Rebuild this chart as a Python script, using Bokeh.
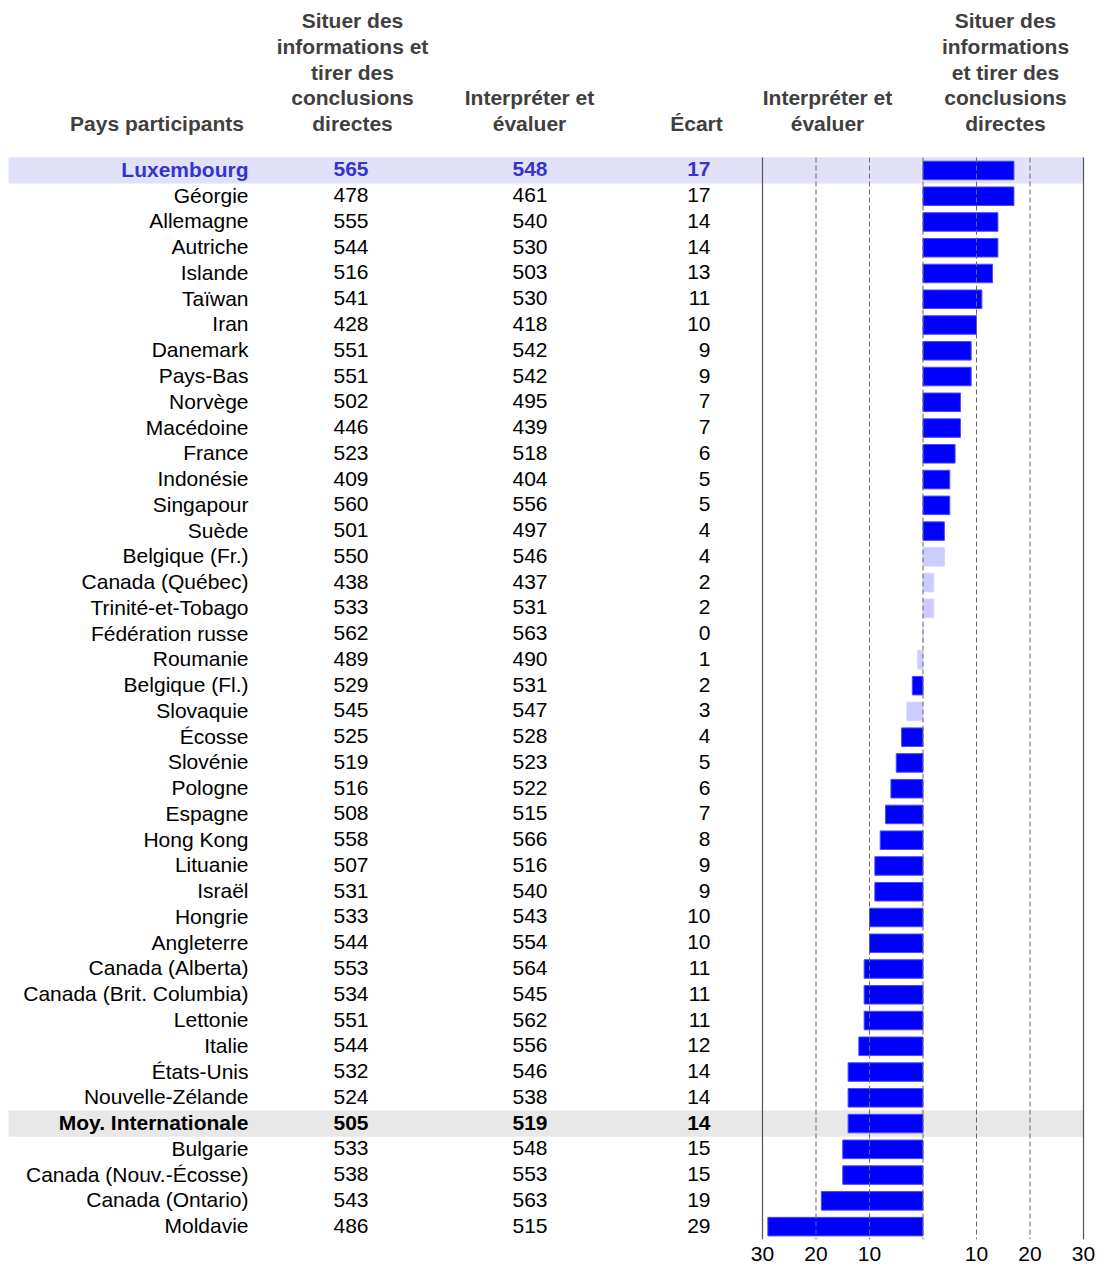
from bokeh.plotting import figure
from bokeh.models import ColumnDataSource, Range1d, LinearAxis, FixedTicker
from bokeh.core.properties import value
from bokeh.embed import file_html
from bokeh.resources import INLINE

# ---------------- data ----------------
countries = ["Luxembourg", "Géorgie", "Allemagne", "Autriche", "Islande", "Taïwan", "Iran",
             "Danemark", "Pays-Bas", "Norvège", "Macédoine", "France", "Indonésie", "Singapour",
             "Suède", "Belgique (Fr.)", "Canada (Québec)", "Trinité-et-Tobago", "Fédération russe",
             "Roumanie", "Belgique (Fl.)", "Slovaquie", "Écosse", "Slovénie", "Pologne", "Espagne",
             "Hong Kong", "Lituanie", "Israël", "Hongrie", "Angleterre", "Canada (Alberta)",
             "Canada (Brit. Columbia)", "Lettonie", "Italie", "États-Unis", "Nouvelle-Zélande",
             "Moy. Internationale", "Bulgarie", "Canada (Nouv.-Écosse)", "Canada (Ontario)", "Moldavie"]
situer = [565, 478, 555, 544, 516, 541, 428, 551, 551, 502, 446, 523, 409, 560, 501, 550, 438,
          533, 562, 489, 529, 545, 525, 519, 516, 508, 558, 507, 531, 533, 544, 553, 534, 551,
          544, 532, 524, 505, 533, 538, 543, 486]
interpreter = [548, 461, 540, 530, 503, 530, 418, 542, 542, 495, 439, 518, 404, 556, 497, 546,
               437, 531, 563, 490, 531, 547, 528, 523, 522, 515, 566, 516, 540, 543, 554, 564,
               545, 562, 556, 546, 538, 519, 548, 553, 563, 515]
# signed gap: positive = "Situer des informations..." higher, negative = "Interpréter et évaluer" higher
ecart = [17, 17, 14, 14, 13, 11, 10, 9, 9, 7, 7, 6, 5, 5, 4, 4, 2, 2, 0,
         -1, -2, -3, -4, -5, -6, -7, -8, -9, -9, -10, -10, -11, -11, -11, -12, -14, -14,
         -14, -15, -15, -19, -29]
significant = [True] * 15 + [False] * 5 + [True] + [False] + [True] * 20
highlight_lux = "Luxembourg"
highlight_avg = "Moy. Internationale"

header_col1 = ["Pays participants"]
header_col2 = ["Situer des", "informations et", "tirer des", "conclusions", "directes"]
header_col3 = ["Interpréter et", "évaluer"]
header_col4 = ["Écart"]
header_bar_left = ["Interpréter et", "évaluer"]
header_bar_right = ["Situer des", "informations", "et tirer des", "conclusions", "directes"]

tick_values = [-30, -20, -10, 10, 20, 30]
grid_values = [-20, -10, 0, 10, 20]
frame_values = [-30, 30]

# ---------------- layout constants ----------------
FONT = "Liberation Sans"
FS = "21px"
W = 1100
H_FRAME = 1239
B_BOTTOM = 26
ROW_PX = 25.76
n = len(countries)
y_bottom = n - 0.5
y_top = y_bottom - H_FRAME / ROW_PX

BAR_L, BAR_R = 762, 1083          # canvas x of -30 and +30
ppu = (BAR_R - BAR_L) / 60.0
bx0 = -30 - BAR_L / ppu
bx1 = 30 + (W - BAR_R) / ppu
BAND_L = 8

X_NAME, X_S1, X_S2, X_EC = 248, 350.5, 529.5, 710
X_H1, X_H2, X_H3, X_H4 = 156.5, 352, 529, 696
X_HB1, X_HB2 = 827, 1005
HEAD_BASE = -1.82
ROW_SHIFT = -0.04

p = figure(width=W, height=H_FRAME + B_BOTTOM,
           x_range=Range1d(0, W), y_range=Range1d(y_bottom, y_top),
           output_backend="svg", toolbar_location=None,
           x_axis_location=None, y_axis_location=None,
           min_border_left=0, min_border_right=0, min_border_top=0,
           min_border_bottom=B_BOTTOM)
p.extra_x_ranges = {"bars": Range1d(bx0, bx1)}
p.outline_line_color = None
p.grid.grid_line_color = None
p.background_fill_color = "white"
p.border_fill_color = "white"

rows = list(range(n))

# highlight bands
band_rows = [i for i, c in enumerate(countries) if c in (highlight_lux, highlight_avg)]
band_cols = ["#e1e1fa" if countries[i] == highlight_lux else "#e8e8e8" for i in band_rows]
p.hbar(y=band_rows, left=bx0 + BAND_L / ppu, right=30, height=1.02, fill_color=band_cols,
       line_color=None, x_range_name="bars")

# bars
bar_src = ColumnDataSource(dict(
    y=rows, v=ecart,
    fill=["#0000ff" if s else "#ccccff" for s in significant],
    line=["#4a4aff" if s else "#d4d4ff" for s in significant],
))
p.hbar(y="y", left=0, right="v", height=0.72, fill_color="fill", line_color="line",
       line_width=1, source=bar_src, x_range_name="bars")

# reference lines
p.segment(x0=grid_values, x1=grid_values, y0=-0.5, y1=y_bottom, line_color="#666666",
          line_width=1, line_dash="5 3", x_range_name="bars")
p.segment(x0=frame_values, x1=frame_values, y0=-0.5, y1=y_bottom, line_color="#555555",
          line_width=1.2, x_range_name="bars")

# table text
colors = ["#3535cc" if c == highlight_lux else "black" for c in countries]
styles = ["bold" if c in (highlight_lux, highlight_avg) else "normal" for c in countries]
tsrc = ColumnDataSource(dict(
    y=[r + ROW_SHIFT for r in rows], name=countries,
    s1=[str(v) for v in situer], s2=[str(v) for v in interpreter],
    ec=[str(abs(v)) for v in ecart], color=colors, style=styles,
))
common = dict(source=tsrc, y="y", text_font=value(FONT), text_font_size=FS,
              text_color="color", text_font_style="style", text_baseline="middle")
p.text(x=X_NAME, text="name", text_align="right", **common)
p.text(x=X_S1, text="s1", text_align="center", **common)
p.text(x=X_S2, text="s2", text_align="center", **common)
p.text(x=X_EC, text="ec", text_align="right", **common)

# headers
hx, hy, ht = [], [], []
for xc, lines in [(X_H1, header_col1), (X_H2, header_col2), (X_H3, header_col3),
                  (X_H4, header_col4), (X_HB1, header_bar_left), (X_HB2, header_bar_right)]:
    k = len(lines)
    for j, t in enumerate(lines):
        hx.append(xc)
        hy.append(HEAD_BASE - (k - 1 - j))
        ht.append(t)
p.text(x=hx, y=hy, text=ht, text_font=value(FONT), text_font_size=FS,
       text_font_style="bold", text_color="#404040", text_align="center",
       text_baseline="middle")

# bottom axis
ax = LinearAxis(x_range_name="bars", ticker=FixedTicker(ticks=tick_values))
ax.major_label_overrides = {v: str(abs(v)) for v in tick_values}
ax.axis_line_color = None
ax.major_tick_line_color = None
ax.minor_tick_line_color = None
ax.major_tick_out = 0
ax.major_tick_in = 0
ax.major_label_standoff = 7
ax.major_label_text_font = FONT
ax.major_label_text_font_size = FS
ax.major_label_text_color = "black"
p.add_layout(ax, "below")

open("out.html", "w").write(file_html(p, INLINE))
